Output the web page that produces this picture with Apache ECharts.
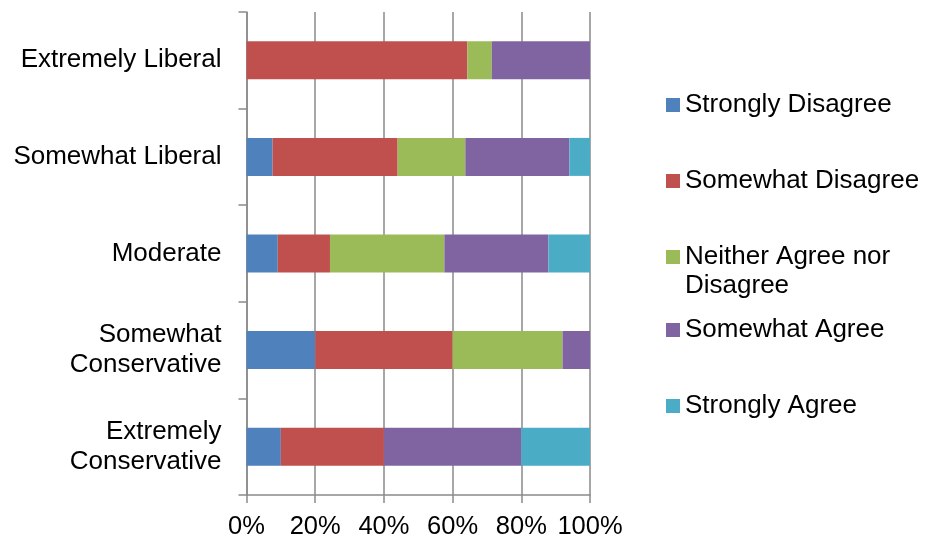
<!DOCTYPE html>
<html>
<head>
<meta charset="utf-8">
<title>Agreement by political leaning</title>
<script src="https://cdn.jsdelivr.net/npm/echarts@6/dist/echarts.min.js"></script>
<style>
  html, body { margin: 0; padding: 0; background: #ffffff; }
  #chart { width: 929px; height: 540px; }
</style>
</head>
<body>
<div id="chart"></div>
<script>
// Political leaning groups, top to bottom
const categories = [
  'Extremely Liberal',
  'Somewhat Liberal',
  'Moderate',
  'Somewhat\nConservative',
  'Extremely\nConservative'
];

// Share of responses (%) per group
const stronglyDisagree = [0, 7.6, 9.1, 20, 10];
const somewhatDisagree = [64.3, 36.4, 15.2, 40, 30];
const neitherAgree     = [7.1, 19.7, 33.3, 32, 0];
const somewhatAgree    = [28.6, 30.3, 30.3, 8, 40];
const stronglyAgree    = [0, 6.1, 12.1, 0, 20];

const seriesNames = [
  'Strongly Disagree',
  'Somewhat Disagree',
  'Neither Agree nor Disagree',
  'Somewhat Agree',
  'Strongly Agree'
];
const seriesValues = [stronglyDisagree, somewhatDisagree, neitherAgree, somewhatAgree, stronglyAgree];
const seriesColors = ['#4F81BD', '#C0504D', '#9BBB59', '#8064A2', '#4BACC6'];

const xTicks = [0, 20, 40, 60, 80, 100];

const FONT = "'Liberation Sans', Arial, sans-serif";
const AXIS_GREY = '#8a8a8a';

// Legend text; the wrapped entry gets a blank lead line so its
// swatch lines up with the first line of text
function legendText(name) {
  return name === 'Neither Agree nor Disagree' ? '\nNeither Agree nor\nDisagree' : name;
}

// One legend block per entry so each can sit at its own height
const legendTops = [90, 166, 213.5, 315, 391];
const legends = seriesNames.map((name, i) => ({
  data: [name === 'Neither Agree nor Disagree'
    ? { name: name, textStyle: { lineHeight: 29 } }
    : { name: name }],
  orient: 'vertical',
  left: 666,
  top: legendTops[i],
  padding: 0,
  itemWidth: 14,
  itemHeight: 14,
  icon: 'rect',
  formatter: legendText,
  textStyle: { fontFamily: FONT, fontSize: 26, color: '#000', lineHeight: 30 }
}));

const chart = echarts.init(document.getElementById('chart'), null, { renderer: 'canvas' });
chart.setOption({
  animation: false,
  backgroundColor: '#ffffff',
  grid: { left: 246.5, right: 339, top: 12, bottom: 45, containLabel: false },
  legend: legends,
  xAxis: {
    type: 'value',
    min: xTicks[0],
    max: xTicks[xTicks.length - 1],
    interval: xTicks[1] - xTicks[0],
    axisLine: { show: true, lineStyle: { color: AXIS_GREY, width: 1.5 } },
    axisTick: { show: true, length: 8, lineStyle: { color: AXIS_GREY, width: 1.5 } },
    splitLine: { show: true, lineStyle: { color: AXIS_GREY, width: 1.5 } },
    axisLabel: {
      formatter: '{value}%',
      fontFamily: FONT,
      fontSize: 25.5,
      color: '#000',
      margin: 19
    }
  },
  yAxis: {
    type: 'category',
    inverse: true,
    data: categories,
    axisLine: { show: true, lineStyle: { color: AXIS_GREY, width: 1.5 } },
    axisTick: { show: true, length: 8, lineStyle: { color: AXIS_GREY, width: 1.5 } },
    splitLine: { show: false },
    axisLabel: {
      fontFamily: FONT,
      fontSize: 26,
      lineHeight: 30,
      color: '#000',
      margin: 25,
      align: 'right'
    }
  },
  series: seriesNames.map((name, i) => ({
    name: name,
    type: 'bar',
    stack: 'total',
    barWidth: 38,
    itemStyle: { color: seriesColors[i] },
    data: seriesValues[i]
  }))
});
</script>
</body>
</html>
